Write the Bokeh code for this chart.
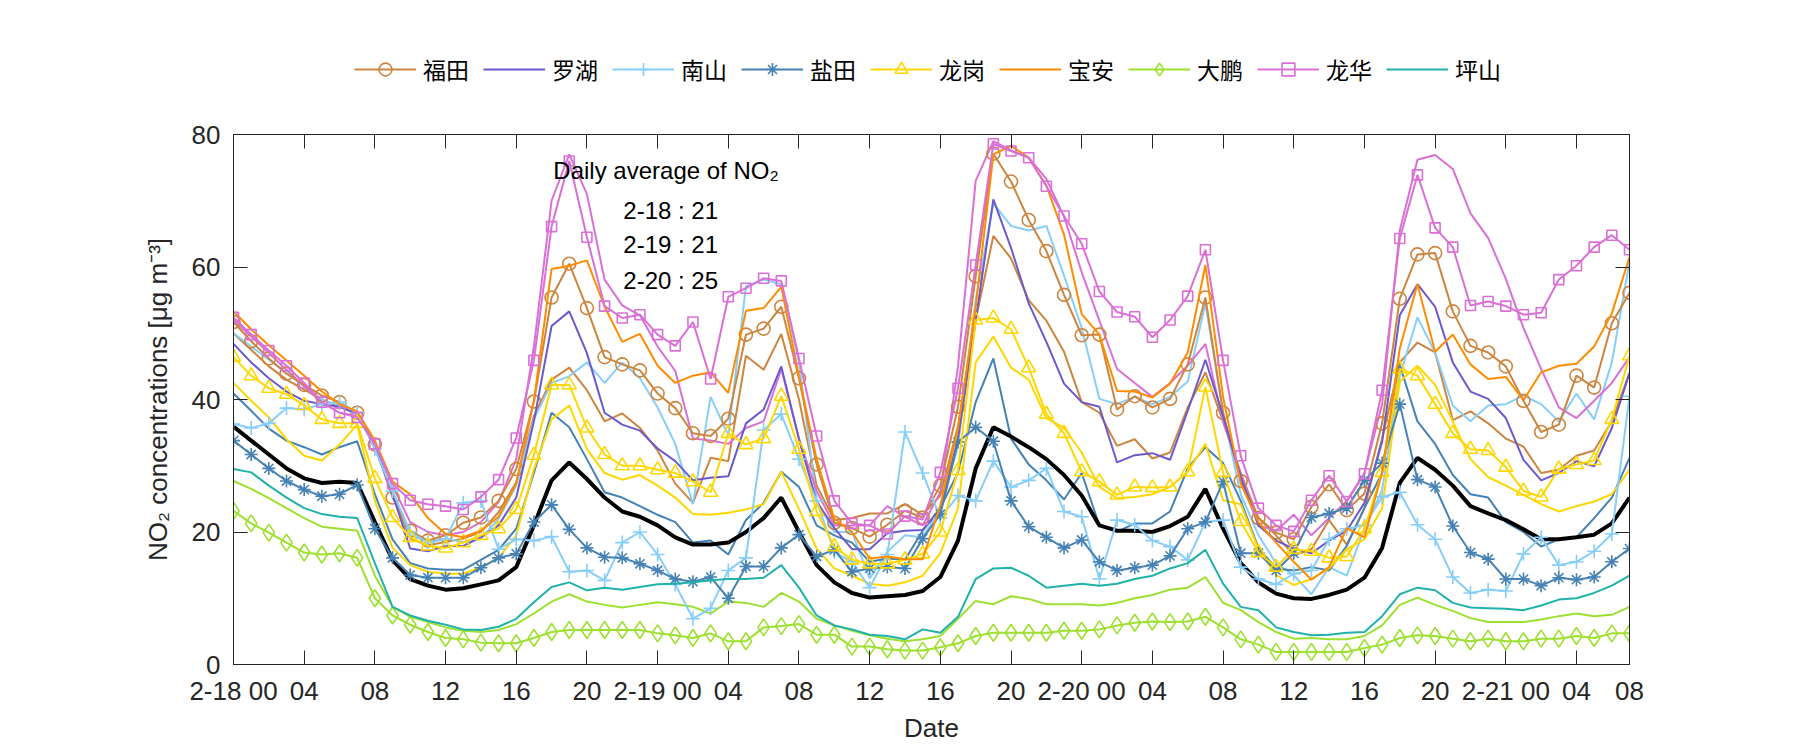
from bokeh.plotting import figure
from bokeh.models import FixedTicker, LinearAxis, Range1d, Label, Legend, LegendItem
from bokeh.layouts import column
from bokeh.embed import file_html
from bokeh.resources import INLINE

hours = list(range(80))
tick_pos = [0, 4, 8, 12, 16, 20, 24, 28, 32, 36, 40, 44, 48, 52, 56, 60, 64, 68, 72, 76, 79]
tick_labels = ["2-18 00", "04", "08", "12", "16", "20", "2-19 00", "04", "08", "12", "16", "20",
               "2-20 00", "04", "08", "12", "16", "20", "2-21 00", "04", "08"]

fu_tian = [51.7, 48.8, 46.2, 43.9, 42.2, 40.6, 39.6, 38.0, 33.2, 25.2, 20.2, 18.7, 19.5, 21.4, 22.2, 24.7, 29.5, 39.7, 55.4, 60.5, 53.8,
           46.4, 45.3, 44.4, 40.9, 38.7, 34.9, 34.5, 37.1, 49.8, 50.7, 54.0, 43.2, 30.2, 21.4, 20.6, 19.3, 21.1, 23.2, 22.2, 27.0,
           38.9, 58.6, 77.1, 72.9, 67.1, 62.4, 55.8, 49.7, 49.8, 38.5, 40.5, 38.8, 40.1, 45.3, 55.4, 38.0, 27.7, 22.1, 19.9, 18.9,
           23.8, 27.2, 23.3, 25.8, 36.4, 55.2, 61.9, 62.1, 53.3, 48.1, 47.1, 45.0, 39.8, 35.1, 36.2, 43.6, 41.8, 51.5, 56.1]
luo_hu = [48.4, 45.6, 43.2, 41.2, 39.8, 39.3, 38.9, 37.8, 33.0, 25.7, 17.5, 17.1, 17.9, 17.9, 19.2, 21.0, 25.2, 36.7, 51.1, 53.3, 47.0,
          38.0, 36.2, 35.3, 32.6, 30.7, 27.8, 28.2, 28.4, 36.4, 38.5, 45.0, 34.0, 24.6, 20.6, 17.4, 17.4, 19.8, 20.2, 20.3, 23.5,
          34.1, 51.9, 70.2, 62.9, 54.5, 48.7, 42.4, 39.6, 38.9, 30.5, 31.6, 31.9, 30.9, 38.3, 46.0, 37.5, 28.3, 21.0, 18.7, 17.5,
          16.8, 18.7, 20.2, 24.4, 33.6, 52.7, 57.4, 54.0, 45.6, 41.2, 40.1, 37.2, 30.9, 27.8, 28.9, 30.7, 29.9, 35.7, 44.0]
nan_shan = [36.3, 35.7, 36.4, 38.7, 38.5, 39.3, 39.6, 38.0, 32.5, 26.2, 20.0, 18.4, 18.9, 24.4, 24.7, 17.4, 18.9, 18.7, 19.3, 14.0, 14.2,
            12.7, 18.4, 20.0, 16.6, 12.1, 6.9, 8.5, 14.2, 16.1, 35.4, 37.8, 31.0, 24.7, 17.0, 15.5, 11.6, 16.6, 35.1, 28.9, 22.1,
            25.5, 24.7, 30.7, 26.8, 27.8, 29.6, 23.1, 22.3, 12.9, 21.8, 21.1, 18.7, 17.8, 15.8, 21.5, 21.8, 14.7, 12.9, 12.1, 13.7,
            14.2, 18.9, 20.5, 21.0, 25.3, 26.0, 21.1, 18.9, 13.2, 10.8, 11.3, 11.1, 16.7, 19.2, 15.0, 15.5, 17.1, 19.7, 40.5]
yan_tian = [33.8, 31.7, 29.6, 27.7, 26.4, 25.4, 25.7, 27.1, 20.5, 16.1, 13.5, 13.1, 13.1, 13.1, 14.6, 16.1, 16.7, 21.5, 24.1, 20.4, 17.6,
            16.2, 16.1, 15.2, 14.2, 12.9, 12.5, 13.2, 10.0, 14.8, 14.8, 17.6, 19.6, 16.3, 17.3, 14.0, 14.5, 14.7, 14.5, 19.0, 22.7,
            33.6, 35.8, 33.7, 24.7, 20.8, 19.2, 17.6, 18.8, 15.5, 14.2, 14.6, 15.0, 16.4, 20.5, 21.5, 27.6, 16.8, 16.8, 14.2, 16.8,
            22.2, 22.8, 23.6, 27.8, 30.4, 39.3, 27.9, 26.8, 20.9, 16.9, 15.9, 12.9, 12.9, 11.9, 13.1, 12.8, 13.2, 15.5, 17.5]
long_gang = [46.4, 43.6, 41.7, 40.8, 39.1, 37.0, 36.4, 36.4, 28.1, 22.2, 19.2, 17.9, 17.6, 18.4, 19.5, 20.5, 23.4, 31.6, 42.2, 42.2, 35.7,
             31.7, 30.0, 30.0, 29.4, 28.9, 27.6, 26.0, 34.9, 33.2, 34.1, 40.5, 32.5, 23.1, 17.8, 15.8, 15.2, 15.2, 15.8, 16.7, 20.0,
             29.3, 52.0, 52.3, 50.6, 44.8, 37.8, 34.9, 29.1, 27.6, 25.6, 26.8, 26.7, 26.8, 29.1, 41.9, 29.0, 21.6, 16.9, 14.7, 17.4,
             17.1, 16.1, 16.3, 20.5, 29.0, 44.6, 43.6, 39.3, 34.9, 32.5, 32.3, 29.8, 26.2, 25.3, 29.5, 30.2, 30.8, 37.0, 46.6]
bao_an = [53.3, 50.6, 48.2, 45.9, 43.6, 41.2, 39.3, 38.2, 33.8, 27.6, 25.7, 22.1, 19.7, 19.2, 20.2, 22.3, 27.3, 39.8, 59.7, 60.2, 61.0,
          54.0, 48.7, 49.9, 45.1, 42.5, 43.6, 44.1, 41.0, 53.4, 53.8, 57.0, 43.5, 31.0, 22.0, 20.0, 16.0, 16.3, 15.9, 15.9, 24.0,
          35.7, 54.0, 77.0, 78.3, 76.5, 72.3, 64.9, 52.9, 49.8, 41.3, 41.2, 40.3, 42.4, 47.1, 60.3, 40.4, 27.3, 21.5, 18.4, 15.5,
          12.8, 14.7, 20.6, 19.2, 28.9, 47.7, 57.4, 47.2, 49.8, 45.3, 43.1, 43.4, 39.9, 44.1, 45.1, 45.4, 48.0, 53.0, 61.5]
da_peng = [23.2, 21.3, 19.9, 18.4, 16.9, 16.6, 16.8, 16.1, 10.0, 7.4, 6.0, 4.9, 4.0, 3.8, 3.3, 3.2, 3.2, 4.0, 4.9, 5.2, 5.2,
           5.2, 5.2, 5.2, 4.7, 4.4, 4.0, 4.7, 3.5, 3.5, 5.6, 5.8, 6.1, 4.5, 4.5, 2.7, 2.7, 2.3, 2.1, 2.1, 2.6,
           3.2, 4.3, 4.8, 4.8, 4.8, 4.8, 5.1, 5.1, 5.3, 5.9, 6.3, 6.5, 6.4, 6.5, 7.2, 5.6, 3.8, 3.0, 1.9, 1.9,
           1.9, 1.9, 1.9, 2.5, 3.0, 4.0, 4.4, 4.3, 3.9, 3.5, 3.9, 3.5, 3.5, 3.9, 3.9, 4.3, 4.0, 4.7, 4.7]
long_hua = [52.4, 49.8, 47.4, 45.1, 42.5, 39.6, 38.0, 37.3, 33.3, 27.3, 24.8, 24.2, 23.9, 23.4, 25.3, 27.9, 34.2, 45.9, 66.1, 76.0, 64.5,
            54.1, 52.3, 52.8, 49.8, 48.1, 51.7, 43.1, 55.5, 56.8, 58.3, 57.9, 46.2, 34.5, 24.7, 21.3, 21.0, 19.7, 22.4, 21.9, 29.0,
            41.7, 60.3, 78.6, 77.5, 76.5, 72.2, 67.7, 63.5, 56.3, 53.2, 52.5, 49.4, 52.0, 55.6, 62.6, 45.9, 31.5, 23.6, 21.0, 20.1,
            24.8, 28.5, 24.6, 28.8, 41.4, 64.3, 73.9, 65.9, 63.0, 54.2, 54.8, 54.1, 52.8, 53.1, 58.1, 60.2, 63.0, 64.8, 62.6]
ping_shan = [29.5, 29.0, 27.0, 25.2, 23.6, 22.7, 22.3, 22.1, 15.3, 8.7, 7.4, 6.6, 6.0, 5.3, 5.2, 5.7, 6.9, 9.4, 11.7, 12.4, 11.2,
             11.6, 11.3, 11.7, 12.1, 12.2, 12.4, 12.7, 12.9, 12.9, 13.1, 15.0, 11.6, 7.4, 5.9, 5.3, 4.5, 4.3, 3.8, 5.3, 4.8,
             7.2, 12.9, 14.5, 14.6, 13.4, 11.6, 11.9, 12.2, 11.9, 12.2, 12.9, 13.4, 14.5, 15.3, 17.3, 12.2, 8.7, 8.2, 5.6, 4.9,
             4.4, 4.5, 4.8, 4.9, 7.3, 10.6, 11.6, 11.2, 9.3, 8.6, 8.5, 8.4, 8.2, 8.9, 9.8, 10.0, 10.8, 11.9, 13.4]

# second set of lines (no markers)
fu_tian_b = [50.0, 47.5, 45.0, 43.0, 41.5, 40.0, 39.0, 38.0, 33.0, 25.5, 19.0, 18.0, 18.5, 19.0, 20.0, 23.0, 27.5, 37.5, 43.0, 44.8, 41.4,
             36.7, 37.9, 35.7, 32.3, 27.3, 24.4, 31.2, 30.7, 46.6, 44.5, 49.9, 40.0, 27.0, 21.8, 22.1, 22.8, 22.8, 24.2, 22.6, 25.5,
             36.0, 52.0, 64.7, 61.3, 55.0, 51.9, 47.2, 39.6, 38.0, 33.0, 34.0, 31.1, 32.0, 38.8, 44.1, 36.7, 28.9, 22.1, 19.5, 16.5,
             17.4, 21.8, 18.1, 23.6, 34.1, 45.6, 48.6, 47.1, 36.9, 38.2, 36.4, 34.1, 32.9, 28.9, 29.4, 31.5, 32.3, 36.7, 44.0]
nan_shan_b = [50.0, 48.0, 46.0, 44.0, 42.0, 40.0, 39.0, 38.0, 32.5, 26.0, 19.5, 18.5, 19.0, 18.5, 19.0, 22.0, 27.0, 37.0, 42.5, 43.5, 45.6,
              42.5, 45.6, 43.2, 38.8, 33.3, 24.2, 40.4, 34.6, 57.1, 58.1, 57.4, 45.6, 24.7, 20.0, 20.0, 13.0, 17.0, 19.5, 19.2, 23.6,
              33.0, 55.0, 69.6, 66.2, 65.5, 66.2, 58.7, 50.8, 40.1, 39.3, 40.4, 39.3, 40.4, 42.7, 54.5, 38.0, 25.7, 19.5, 15.3, 13.5,
              10.6, 14.7, 13.4, 20.5, 26.3, 43.5, 52.4, 47.1, 39.1, 36.7, 39.1, 39.3, 40.6, 39.3, 36.7, 40.9, 37.0, 45.6, 60.8]
yan_tian_b = [40.9, 38.3, 35.6, 33.8, 32.8, 31.7, 32.8, 33.7, 25.7, 18.9, 15.3, 14.5, 14.3, 14.3, 15.8, 17.3, 20.5, 28.9, 38.0, 35.8, 31.0,
              26.0, 25.2, 23.9, 22.6, 21.5, 18.4, 18.7, 16.6, 21.8, 24.4, 29.1, 26.8, 21.0, 19.5, 18.4, 15.5, 16.0, 15.8, 20.2, 23.6,
              29.0, 39.6, 46.2, 34.1, 30.2, 27.8, 24.9, 28.9, 21.0, 20.0, 21.3, 21.3, 23.1, 29.6, 32.8, 30.4, 24.7, 17.6, 14.5, 14.2,
              14.7, 14.2, 17.9, 23.6, 28.9, 45.2, 36.7, 33.3, 28.6, 25.7, 25.2, 21.5, 20.0, 17.8, 18.9, 19.2, 22.1, 25.2, 31.2]
long_gang_b = [42.5, 39.8, 37.3, 34.0, 31.5, 30.8, 33.2, 36.2, 24.7, 17.6, 15.0, 14.0, 13.7, 13.7, 14.7, 16.1, 19.5, 29.5, 37.0, 39.1, 32.5,
               28.9, 27.9, 28.6, 27.0, 25.2, 22.7, 22.6, 22.9, 23.4, 24.2, 29.1, 23.5, 17.5, 14.5, 13.4, 12.2, 11.9, 12.4, 13.4, 16.8,
               23.6, 45.6, 49.5, 44.8, 43.0, 37.2, 35.7, 32.0, 26.8, 25.1, 25.3, 25.7, 26.8, 29.1, 33.3, 24.8, 24.2, 17.4, 13.5, 12.0,
               12.9, 14.5, 17.4, 18.9, 23.6, 42.7, 45.1, 42.2, 36.7, 31.0, 28.3, 27.0, 25.6, 24.2, 23.1, 23.9, 24.6, 25.7, 29.4]
da_peng_b = [27.7, 26.5, 25.1, 23.6, 22.1, 20.8, 20.5, 20.2, 13.4, 8.7, 7.2, 6.4, 5.6, 5.1, 4.9, 5.2, 6.1, 7.7, 9.5, 10.6, 9.5,
             9.0, 8.6, 9.0, 9.4, 9.1, 8.7, 7.7, 9.5, 9.3, 8.7, 10.8, 9.5, 6.9, 5.9, 5.1, 4.4, 3.9, 3.5, 3.8, 4.3,
             6.9, 9.6, 9.1, 10.3, 9.9, 9.1, 9.1, 9.1, 8.9, 9.3, 10.0, 10.5, 11.3, 11.6, 13.2, 9.3, 8.2, 6.4, 4.9, 3.9,
             4.0, 3.8, 3.8, 4.3, 5.9, 9.0, 10.1, 9.0, 8.1, 7.0, 6.4, 6.4, 6.4, 6.8, 7.3, 7.7, 7.3, 7.5, 8.7]
long_hua_b = [52.0, 49.5, 47.0, 44.5, 42.0, 39.5, 38.0, 37.5, 33.5, 27.0, 21.5, 20.0, 19.5, 20.0, 21.5, 24.5, 31.0, 48.0, 70.0, 77.0, 71.0,
              58.1, 54.2, 52.7, 48.0, 44.3, 34.1, 33.8, 33.3, 35.7, 36.7, 44.6, 34.1, 26.2, 21.0, 21.0, 21.0, 23.9, 22.3, 21.0, 26.0,
              45.0, 73.0, 79.0, 77.6, 76.5, 73.3, 67.6, 59.2, 51.9, 44.6, 42.5, 40.4, 42.5, 45.1, 48.4, 36.7, 28.9, 21.0, 20.2, 22.6,
              19.5, 22.1, 24.7, 28.9, 39.3, 65.5, 76.2, 76.9, 74.8, 68.1, 64.4, 58.2, 50.8, 44.6, 38.8, 37.2, 39.8, 42.5, 46.4]
overall = [35.9, 33.8, 31.7, 29.6, 28.1, 27.4, 27.6, 27.4, 21.5, 15.8, 12.9, 11.9, 11.3, 11.5, 12.1, 12.7, 14.7, 21.0, 27.8, 30.5, 28.0,
           25.2, 23.1, 22.3, 21.0, 19.2, 18.1, 18.1, 18.4, 20.0, 22.1, 25.2, 20.0, 15.0, 12.4, 10.8, 10.1, 10.3, 10.5, 11.1, 13.2,
           18.7, 29.6, 35.8, 34.4, 32.8, 31.0, 28.6, 25.5, 21.0, 20.2, 20.2, 20.0, 20.9, 22.3, 26.5, 20.5, 15.3, 12.4, 10.7, 10.0,
           9.9, 10.5, 11.3, 13.1, 17.6, 27.4, 31.2, 29.4, 27.0, 23.9, 22.8, 21.8, 20.4, 18.9, 18.9, 19.2, 19.6, 21.3, 25.2]

station_names = ["福田", "罗湖", "南山", "盐田", "龙岗", "宝安", "大鹏", "龙华", "坪山"]
annot_title = "Daily average of NO₂"
annot_lines = ["2-18 : 21", "2-19 : 21", "2-20 : 25"]

C_FT = "#CD853F"
C_LH = "#6A5ACD"
C_NS = "#87CEFA"
C_YT = "#4682B4"
C_LG = "#FFD700"
C_BA = "#FF8C00"
C_DP = "#9DE030"
C_HUA = "#DA70D6"
C_PS = "#20B2AA"
AX = "#262626"
FONT = "Liberation Sans"

LEG_H = 110
p = figure(width=1800, height=750 - LEG_H, x_range=Range1d(0, 79), y_range=Range1d(0, 80),
           output_backend="svg", toolbar_location=None,
           min_border_left=233, min_border_right=171, min_border_top=134 - LEG_H, min_border_bottom=86)
p.xgrid.visible = False
p.ygrid.visible = False
p.outline_line_color = AX
p.outline_line_width = 1
p.background_fill_color = "white"
p.border_fill_color = "white"

# plain (second-set) lines
for ys, c in [(fu_tian_b, C_FT), (nan_shan_b, C_NS), (yan_tian_b, C_YT), (long_gang_b, C_LG),
              (da_peng_b, C_DP), (long_hua_b, C_HUA)]:
    p.line(hours, ys, line_color=c, line_width=2)

p.line(hours, overall, line_color="black", line_width=4)

series = [fu_tian, luo_hu, nan_shan, yan_tian, long_gang, bao_an, da_peng, long_hua, ping_shan]
styles = [(C_FT, "circle", 13), (C_LH, None, None), (C_NS, "cross", 14), (C_YT, "asterisk", 13),
          (C_LG, "triangle", 14), (C_BA, None, None), (C_DP, "diamond", 17), (C_HUA, "square", 10),
          (C_PS, None, None)]


def draw(fig, ys, color, marker, size):
    rs = [fig.line(hours, ys, line_color=color, line_width=2)]
    if marker:
        rs.append(fig.scatter(hours, ys, marker=marker, size=size, fill_color=None,
                              line_color=color, line_width=1.6))
    return rs


for ys, (c, m, s) in zip(series, styles):
    draw(p, ys, c, m, s)

# axes
xt = FixedTicker(ticks=tick_pos)
yt = FixedTicker(ticks=[0, 20, 40, 60, 80])
for ax in [p.xaxis[0], p.yaxis[0]]:
    ax.axis_line_color = AX
    ax.major_tick_line_color = AX
    ax.major_tick_in = 14
    ax.major_tick_out = 0
    ax.minor_tick_line_color = None
    ax.major_label_text_font = FONT
    ax.major_label_text_font_size = "26px"
    ax.major_label_text_color = AX
    ax.axis_label_text_font = FONT
    ax.axis_label_text_font_size = "26px"
    ax.axis_label_text_font_style = "normal"
    ax.axis_label_text_color = AX
p.xaxis[0].ticker = xt
p.xaxis[0].major_label_overrides = {t: l for t, l in zip(tick_pos, tick_labels)}
p.xaxis[0].axis_label = "Date"
p.xaxis[0].major_label_standoff = 11
p.xaxis[0].axis_label_standoff = 4
p.yaxis[0].ticker = yt
p.yaxis[0].axis_label = "NO₂ concentrations [μg m⁻³]"
p.yaxis[0].major_label_standoff = 13
p.yaxis[0].axis_label_standoff = 16

top = LinearAxis(ticker=xt, major_label_overrides={t: "" for t in tick_pos},
                 major_tick_in=14, major_tick_out=0, minor_tick_line_color=None,
                 axis_line_color=AX, major_tick_line_color=AX, major_label_text_font_size="0px",
                 major_label_standoff=0)
right = LinearAxis(ticker=yt, major_label_overrides={t: "" for t in [0, 20, 40, 60, 80]},
                   major_tick_in=14, major_tick_out=0, minor_tick_line_color=None,
                   axis_line_color=AX, major_tick_line_color=AX, major_label_text_font_size="0px",
                   major_label_standoff=0)
p.add_layout(top, "above")
p.add_layout(right, "right")

# annotation
p.add_layout(Label(x=18.1, y=74.5, text=annot_title, text_font=FONT, text_font_size="24px",
                   text_baseline="middle", text_color="black"))
for yv, t in zip([68.6, 63.4, 57.9], annot_lines):
    p.add_layout(Label(x=22.06, y=yv, text=t, text_font=FONT, text_font_size="24px",
                       text_baseline="middle", text_color="black"))

# legend strip: a separate figure above the plot whose view range holds none of the data,
# so only the legend samples are visible
pl = figure(width=1800, height=LEG_H, x_range=Range1d(200, 201), y_range=Range1d(200, 201),
            output_backend="svg", toolbar_location=None, min_border=0)
pl.axis.visible = False
pl.xgrid.visible = False
pl.ygrid.visible = False
pl.outline_line_color = None
pl.background_fill_color = "white"
pl.border_fill_color = "white"

items = [LegendItem(label=n, renderers=draw(pl, ys, c, m, s))
         for n, ys, (c, m, s) in zip(station_names, series, styles)]
lg = Legend(items=items, orientation="horizontal", location=(121, 24),
            glyph_width=62, glyph_height=32, label_standoff=7, spacing=14,
            padding=0, margin=0, border_line_color=None, background_fill_alpha=0,
            label_text_font="Noto Sans CJK SC", label_text_font_size="23px", label_text_color="black")
pl.add_layout(lg, "center")

layout = column(pl, p, spacing=0)
open("out.html", "w").write(file_html(layout, INLINE))
